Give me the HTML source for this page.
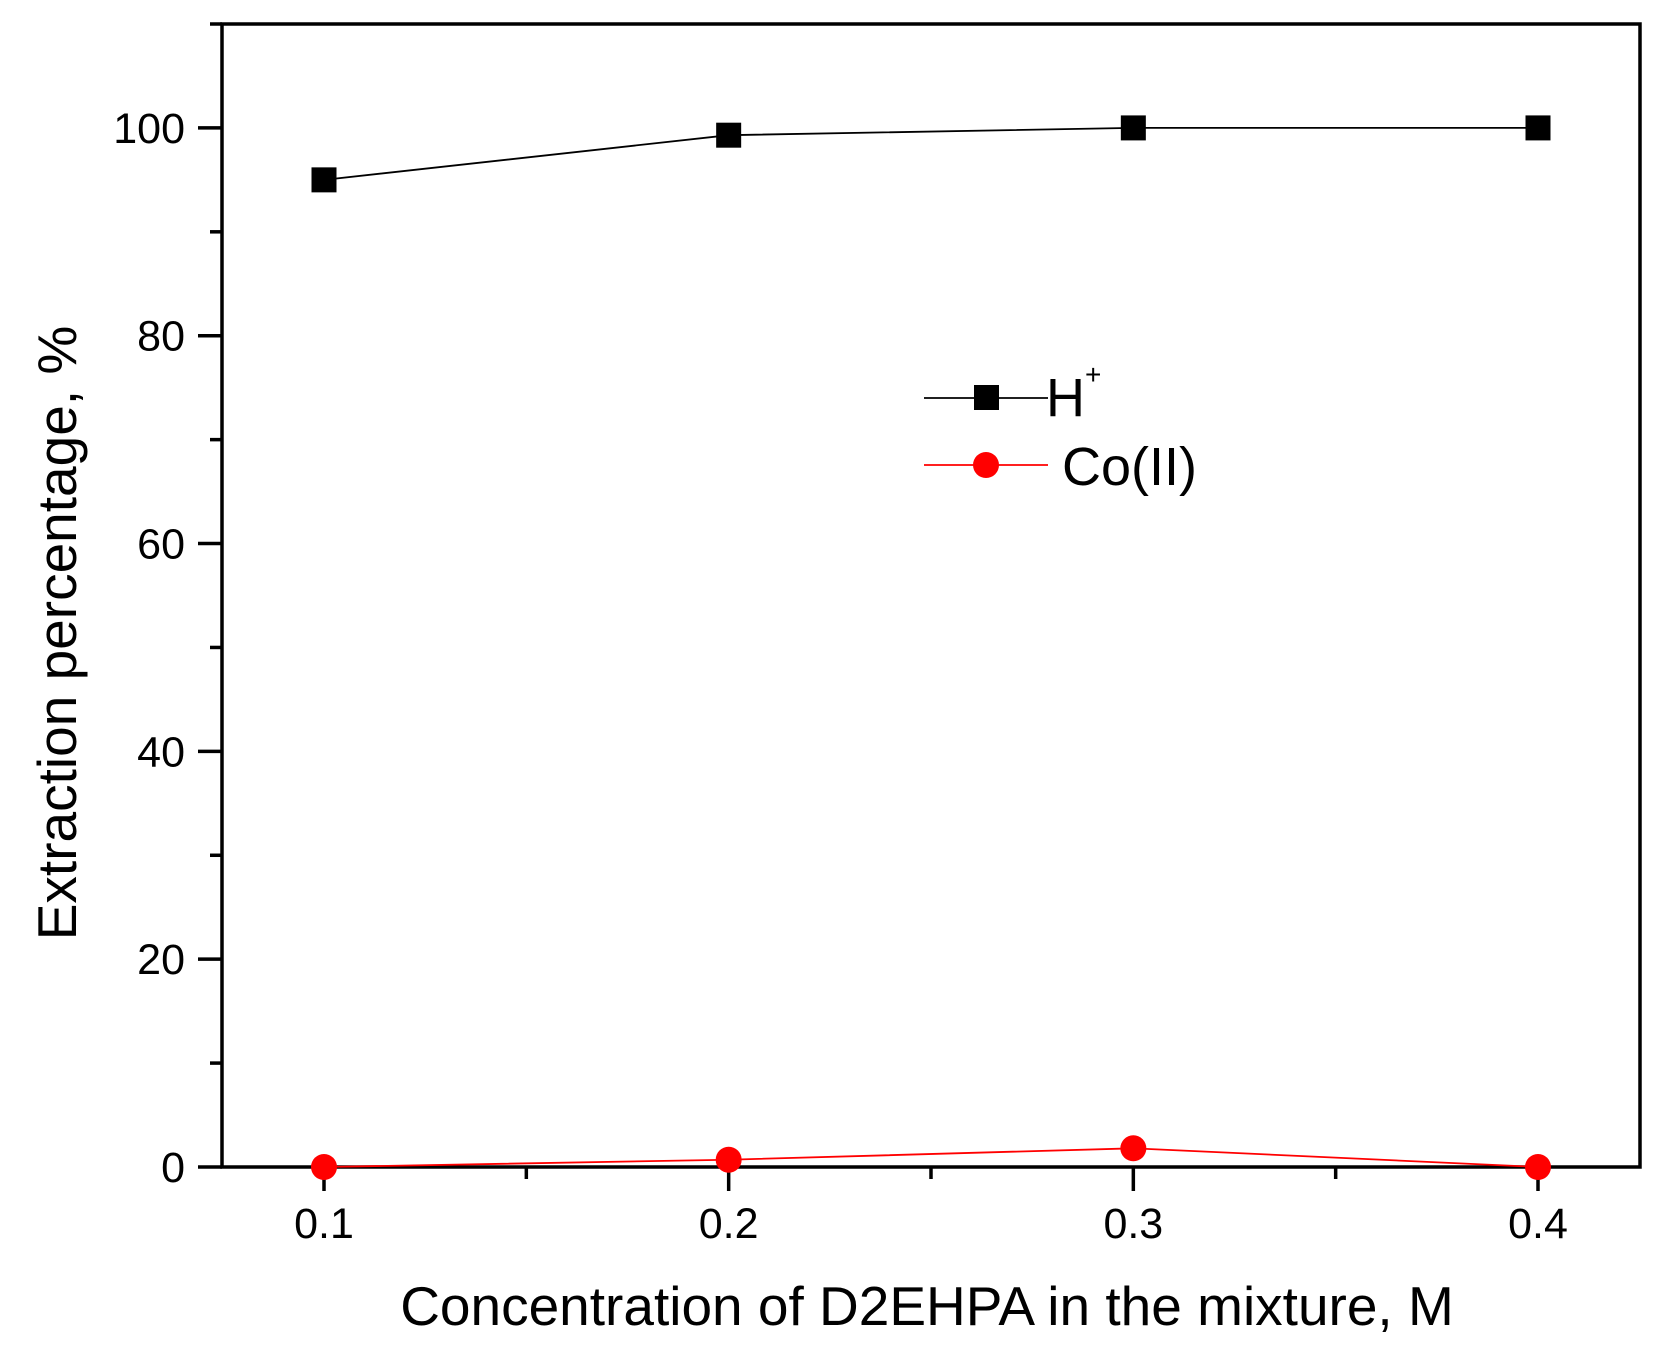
<!DOCTYPE html>
<html><head><meta charset="utf-8"><style>
html,body{margin:0;padding:0;background:#fff}
svg{display:block;font-family:"Liberation Sans",sans-serif}
</style></head><body>
<svg id="chart" width="1671" height="1357" viewBox="0 0 1671 1357">
<g id="axes"></g>
<g id="series"></g>
<g id="legend">
 <line x1="924" y1="398" x2="1048" y2="398" stroke="#000" stroke-width="1.8"/>
 <rect x="974" y="385" width="25" height="25" fill="#000"/>
 <text x="1046" y="416" font-size="54">H<tspan font-size="28" dy="-32">+</tspan></text>
 <line x1="924" y1="465" x2="1048" y2="465" stroke="#f00" stroke-width="1.8"/>
 <circle cx="986" cy="465" r="13" fill="#f00"/>
 <text x="1062" y="485" font-size="54">Co(II)</text>
</g>
<text x="927" y="1325" font-size="55" text-anchor="middle">Concentration of D2EHPA in the mixture, M</text>
<text transform="translate(76,633) rotate(-90)" font-size="55" text-anchor="middle">Extraction percentage, %</text>
</svg>
<script>
const categories=[0.1,0.2,0.3,0.4];
const hValues=[95,99.3,100,100];
const coValues=[0,0.7,1.8,0];
const xTicks=[0.1,0.2,0.3,0.4];
const xTickLabels=["0.1","0.2","0.3","0.4"];
const yTicks=[0,20,40,60,80,100];
const yTickLabels=["0","20","40","60","80","100"];
const L=222,R=1640,T=24,B=1167;
const X=v=>324+(v-0.1)*(1538-324)/0.3;
const Y=v=>B-(v)*(B-T)/110;
const NS="http://www.w3.org/2000/svg";
function mk(tag,attrs,parent){const e=document.createElementNS(NS,tag);for(const k in attrs)e.setAttribute(k,attrs[k]);parent.appendChild(e);return e;}
const ax=document.getElementById('axes'),se=document.getElementById('series');
const frame=mk('rect',{x:L,y:T,width:R-L,height:B-T,fill:'none',stroke:'#000','stroke-width':3.5},ax);


xTicks.forEach((v,i)=>{
 const t=mk('line',{x1:X(v),x2:X(v),y1:B,y2:B+24,stroke:'#000','stroke-width':3.5},ax);
 
 
 const l=mk('text',{x:X(v),y:B+71,'font-size':43,'text-anchor':'middle'},ax);l.textContent=xTickLabels[i];
 
 
 if(i<xTicks.length-1){const m=mk('line',{x1:X(v+0.05),x2:X(v+0.05),y1:B,y2:B+12,stroke:'#000','stroke-width':3.5},ax);
 
 }
});
yTicks.forEach((v,i)=>{
 const t=mk('line',{x1:L-24,x2:L,y1:Y(v),y2:Y(v),stroke:'#000','stroke-width':3.5},ax);
 
 
 const l=mk('text',{x:L-37,y:Y(v)+15,'font-size':43,'text-anchor':'end'},ax);l.textContent=yTickLabels[i];
 
 
 const m=mk('line',{x1:L-12,x2:L,y1:Y(v+10),y2:Y(v+10),stroke:'#000','stroke-width':3.5},ax);
 
 
});
const hp=mk('polyline',{points:categories.map((c,i)=>X(c)+','+Y(hValues[i])).join(' '),fill:'none',stroke:'#000','stroke-width':1.8},se);


const cp=mk('polyline',{points:categories.map((c,i)=>X(c)+','+Y(coValues[i])).join(' '),fill:'none',stroke:'#f00','stroke-width':1.8},se);


categories.forEach((c,i)=>{
 const r=mk('rect',{x:X(c)-12.5,y:Y(hValues[i])-12.5,width:25,height:25,fill:'#000'},se);
 
 
 const p=mk('circle',{cx:X(c),cy:Y(coValues[i]),r:13,fill:'#f00'},se);
 
 
});
</script>
</body></html>
